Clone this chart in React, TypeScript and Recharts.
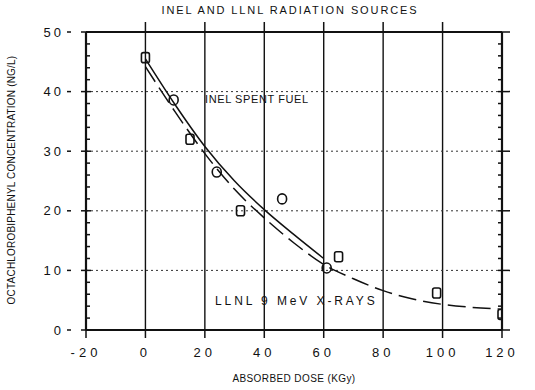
import React from "react";
import {
  ComposedChart,
  Line,
  Scatter,
  XAxis,
  YAxis,
  ReferenceLine,
} from "recharts";

// tick values
const xTicks = [-20, 0, 20, 40, 60, 80, 100, 120];
const yTicksAll = [0, 2, 4, 6, 8, 10, 12, 14, 16, 18, 20, 22, 24, 26, 28, 30, 32, 34, 36, 38, 40, 42, 44, 46, 48, 50];
const gridX = [0, 20, 40, 60, 80, 100];
const gridYDotted = [10, 20, 30, 40];

// INEL spent fuel fit (solid)
const inelFitX = [0, 10, 20, 30, 40, 50, 60];
const inelFitY = [45.5, 37.8, 30.8, 25.0, 20.2, 16.0, 12.0];

// LLNL 9 MeV x-ray fit (dashed)
const llnlFitX = [0, 10, 20, 30, 40, 50, 60, 70, 80, 90, 100, 110, 120];
const llnlFitY = [44.2, 36.6, 29.6, 23.6, 18.8, 14.6, 11.0, 8.6, 6.6, 5.2, 4.3, 3.8, 3.5];

// measured points
const circleX = [9.5, 24, 46, 61];
const circleY = [38.6, 26.5, 22, 10.4];
const squareX = [0, 15, 32, 65, 98, 120];
const squareY = [45.7, 32, 20, 12.3, 6.2, 2.6];

const inelFit = inelFitX.map((x, i) => ({ x, y: inelFitY[i] }));
const llnlFit = llnlFitX.map((x, i) => ({ x, y: llnlFitY[i] }));
const circles = circleX.map((x, i) => ({ x, y: circleY[i] }));
const squares = squareX.map((x, i) => ({ x, y: squareY[i] }));

const font = "'Liberation Sans', Arial, sans-serif";
const ink = "#111";

const SquareMark = (props: any) => (
  <rect
    x={props.cx - 4}
    y={props.cy - 5}
    width={8}
    height={10}
    rx={2}
    fill="none"
    stroke={ink}
    strokeWidth={1.6}
  />
);

const CircleMark = (props: any) => (
  <ellipse
    cx={props.cx}
    cy={props.cy}
    rx={4.5}
    ry={5}
    fill="none"
    stroke={ink}
    strokeWidth={1.6}
  />
);

// left axis: labels + outer dash on majors, small inward ticks on minors
const LeftTick = (p: any) => {
  const v = p.payload.value;
  const ax = p.x;
  const y = p.y;
  if (v % 10 === 0) {
    return (
      <g>
        <text
          x={ax - 22}
          y={y}
          dy="0.36em"
          textAnchor="end"
          fill={ink}
          fontSize={13}
          fontFamily={font}
          letterSpacing={3}
        >
          {v}
        </text>
        <line x1={ax - 19} x2={ax - 15} y1={y} y2={y} stroke={ink} strokeWidth={1.5} />
        <line x1={ax - 5} x2={ax + 5} y1={y} y2={y} stroke={ink} strokeWidth={1.5} />
      </g>
    );
  }
  return <line x1={ax} x2={ax + 4} y1={y} y2={y} stroke={ink} strokeWidth={1.5} />;
};

const RightTick = (p: any) => {
  const v = p.payload.value;
  const ax = p.x;
  const y = p.y;
  if (v % 10 === 0) {
    return <line x1={ax - 4} x2={ax + 8} y1={y} y2={y} stroke={ink} strokeWidth={1.5} />;
  }
  return <line x1={ax - 4} x2={ax} y1={y} y2={y} stroke={ink} strokeWidth={1.5} />;
};

const TopTick = (p: any) => (
  <line x1={p.x} x2={p.x} y1={p.y - 10} y2={p.y} stroke={ink} strokeWidth={1.5} />
);

export default function App() {
  return (
    <div style={{ position: "absolute", left: 0, top: 0, width: 535, height: 390, background: "#fff" }}>
      <div
        style={{
          position: "absolute",
          left: 290,
          top: 10,
          transform: "translate(-50%, -50%)",
          fontFamily: font,
          fontSize: 11,
          letterSpacing: 1.9,
          whiteSpace: "nowrap",
          color: ink,
        }}
      >
        INEL AND LLNL RADIATION SOURCES
      </div>
      <div
        style={{
          position: "absolute",
          left: 11,
          top: 180,
          transform: "translate(-50%, -50%) rotate(-90deg)",
          fontFamily: font,
          fontSize: 10,
          letterSpacing: 0.2,
          whiteSpace: "nowrap",
          color: ink,
        }}
      >
        OCTACHLOROBIPHENYL CONCENTRATION (NG/L)
      </div>
      <div
        style={{
          position: "absolute",
          left: 205,
          top: 93,
          fontFamily: font,
          fontSize: 11,
          letterSpacing: 0.6,
          whiteSpace: "nowrap",
          color: ink,
        }}
      >
        INEL SPENT FUEL
      </div>
      <div
        style={{
          position: "absolute",
          left: 215,
          top: 294,
          fontFamily: font,
          fontSize: 12,
          letterSpacing: 2.9,
          whiteSpace: "nowrap",
          color: ink,
        }}
      >
        LLNL 9 MeV X-RAYS
      </div>
      <div
        style={{
          position: "absolute",
          left: 294,
          top: 378,
          transform: "translate(-50%, -50%)",
          fontFamily: font,
          fontSize: 10,
          letterSpacing: 0.4,
          whiteSpace: "nowrap",
          color: ink,
        }}
      >
        ABSORBED DOSE (KGy)
      </div>
      <ComposedChart
        width={535}
        height={390}
        margin={{ top: 22, right: 23, left: 46, bottom: 30 }}
        style={{ position: "absolute", left: 0, top: 0 }}
      >
        <XAxis
          xAxisId="b"
          dataKey="x"
          type="number"
          domain={[-20, 120]}
          ticks={xTicks}
          allowDataOverflow
          axisLine={{ stroke: ink, strokeWidth: 2.2 }}
          tickLine={{ stroke: ink, strokeWidth: 1.5 }}
          tickSize={8}
          tickMargin={10}
          tick={{ fill: ink, fontSize: 13, fontFamily: font, letterSpacing: 4 }}
          height={30}
        />
        <XAxis
          xAxisId="t"
          orientation="top"
          dataKey="x"
          type="number"
          domain={[-20, 120]}
          allowDataOverflow
          ticks={gridX}
          axisLine={false}
          tickLine={false}
          tickSize={0}
          tickMargin={0}
          tick={TopTick}
          height={10}
        />
        <YAxis
          yAxisId="l"
          type="number"
          domain={[0, 50]}
          allowDataOverflow
          ticks={yTicksAll}
          interval={0}
          axisLine={{ stroke: ink, strokeWidth: 2.2 }}
          tickLine={false}
          tickSize={0}
          tickMargin={0}
          tick={LeftTick}
          width={40}
        />
        <YAxis
          yAxisId="r"
          orientation="right"
          type="number"
          domain={[0, 50]}
          allowDataOverflow
          ticks={yTicksAll}
          interval={0}
          axisLine={{ stroke: ink, strokeWidth: 2.2 }}
          tickLine={false}
          tickSize={0}
          tickMargin={0}
          tick={RightTick}
          width={10}
        />
        {gridX.map((v) => (
          <ReferenceLine key={"gx" + v} xAxisId="b" yAxisId="l" x={v} stroke={ink} strokeWidth={1.4} />
        ))}
        {gridYDotted.map((v) => (
          <ReferenceLine
            key={"gy" + v}
            xAxisId="b"
            yAxisId="l"
            y={v}
            stroke="#333"
            strokeWidth={1}
            strokeDasharray="2 3"
          />
        ))}
        <ReferenceLine xAxisId="b" yAxisId="l" y={50} stroke={ink} strokeWidth={2.2} />
        <Line
          xAxisId="t"
          yAxisId="l"
          data={inelFit}
          dataKey="y"
          type="monotone"
          stroke={ink}
          strokeWidth={1.5}
          dot={false}
          isAnimationActive={false}
        />
        <Line
          xAxisId="b"
          yAxisId="r"
          data={llnlFit}
          dataKey="y"
          type="monotone"
          stroke={ink}
          strokeWidth={1.5}
          strokeDasharray="18 7"
          dot={false}
          isAnimationActive={false}
        />
        <Scatter
          xAxisId="b"
          yAxisId="r"
          data={squares}
          dataKey="y"
          shape={SquareMark}
          isAnimationActive={false}
        />
        <Scatter
          xAxisId="t"
          yAxisId="l"
          data={circles}
          dataKey="y"
          shape={CircleMark}
          isAnimationActive={false}
        />
      </ComposedChart>
    </div>
  );
}
